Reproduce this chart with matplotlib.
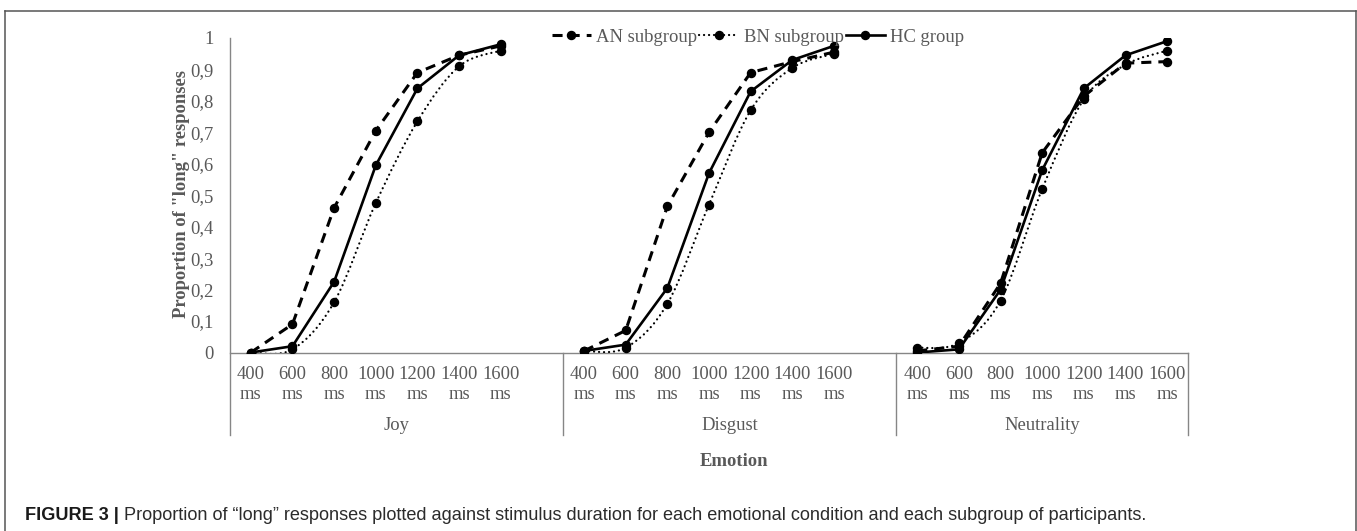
import numpy as np
import matplotlib
matplotlib.use("Agg")
import matplotlib.pyplot as plt
from matplotlib.path import Path
from matplotlib.patches import PathPatch
from matplotlib.lines import Line2D
import matplotlib.transforms as mtrans

# ---------------- data ----------------
durations = ["400\nms", "600\nms", "800\nms", "1000\nms", "1200\nms", "1400\nms", "1600\nms"]
emotions = ["Joy", "Disgust", "Neutrality"]
series_names = ["AN subgroup", "BN subgroup", "HC group"]

an_joy = [0.0, 0.09, 0.46, 0.705, 0.89, 0.945, 0.975]
bn_joy = [0.0, 0.01, 0.16, 0.475, 0.735, 0.91, 0.96]
hc_joy = [0.0, 0.02, 0.225, 0.595, 0.84, 0.945, 0.98]

an_dis = [0.005, 0.07, 0.465, 0.70, 0.89, 0.925, 0.955]
bn_dis = [0.005, 0.015, 0.155, 0.47, 0.77, 0.905, 0.95]
hc_dis = [0.005, 0.025, 0.205, 0.57, 0.83, 0.93, 0.975]

an_neu = [0.005, 0.02, 0.22, 0.635, 0.815, 0.92, 0.925]
bn_neu = [0.015, 0.03, 0.165, 0.52, 0.805, 0.915, 0.96]
hc_neu = [0.0, 0.01, 0.2, 0.58, 0.84, 0.945, 0.99]

yticks = [0, 0.1, 0.2, 0.3, 0.4, 0.5, 0.6, 0.7, 0.8, 0.9, 1]
ytick_labels = ["0", "0,1", "0,2", "0,3", "0,4", "0,5", "0,6", "0,7", "0,8", "0,9", "1"]

caption_bold = "FIGURE 3 |"
caption_rest = ("Proportion of \u201clong\u201d responses plotted against stimulus duration "
                "for each emotional condition and each subgroup of participants.")

# ---------------- style ----------------
W, H, DPI = 1357, 531, 100
SERIF = ["Liberation Serif", "DejaVu Serif"]
SANS = ["Liberation Sans", "DejaVu Sans"]
TXT = "#595959"
AXC = "#868686"
FS = 13.4

fig = plt.figure(figsize=(W / DPI, H / DPI), dpi=DPI)

def px_x(x):
    return x / W

def px_y(y):
    return 1 - y / H

ax_l, ax_r, ax_t, ax_b = 230, 1188, 38, 352.5
ax = fig.add_axes([px_x(ax_l), px_y(ax_b), (ax_r - ax_l) / W, (ax_b - ax_t) / H])
ax.set_xlim(-0.5, 22.5)
ax.set_ylim(0, 1)
ax.set_facecolor("none")
for s in ax.spines.values():
    s.set_visible(False)

# category positions: 7 per group, one empty slot between groups
n_cat = len(durations)
group_offsets = [0, n_cat + 1, 2 * (n_cat + 1)]
groups = [
    (an_joy, bn_joy, hc_joy),
    (an_dis, bn_dis, hc_dis),
    (an_neu, bn_neu, hc_neu),
]

styles = [
    dict(ls=(0, (3.3, 2.3)), lw=2.2, cap="butt", smooth=False),
    dict(ls=(0, (0.05, 2.2)), lw=1.6, cap="round", smooth=True),
    dict(ls="solid", lw=1.9, cap="butt", smooth=False),
]

def smooth_path(xs, ys):
    pts = np.column_stack([xs, ys]).astype(float)
    n = len(pts)
    verts = [pts[0]]
    codes = [Path.MOVETO]
    for i in range(n - 1):
        p0 = pts[max(i - 1, 0)]
        p1 = pts[i]
        p2 = pts[i + 1]
        p3 = pts[min(i + 2, n - 1)]
        c1 = p1 + (p2 - p0) / 6.0
        c2 = p2 - (p3 - p1) / 6.0
        verts += [c1, c2, p2]
        codes += [Path.CURVE4] * 3
    return Path(verts, codes)

for gi, (off, gdata) in enumerate(zip(group_offsets, groups)):
    xs = np.arange(n_cat) + off
    for si, vals in enumerate(gdata):
        st = styles[si]
        if st["smooth"]:
            patch = PathPatch(smooth_path(xs, vals), fill=False, edgecolor="black",
                              linewidth=st["lw"], linestyle=st["ls"], zorder=3)
            patch.set_capstyle(st["cap"])
            ax.add_patch(patch)
        else:
            ax.plot(xs, vals, color="black", lw=st["lw"], linestyle=st["ls"],
                    dash_capstyle=st["cap"], solid_joinstyle="round", zorder=3)
        ax.plot(xs, vals, linestyle="none", marker="o", ms=5.8, color="black",
                zorder=4)

# y ticks
ax.set_yticks(yticks)
ax.set_yticklabels(ytick_labels, fontsize=FS, family=SERIF, color=TXT)
ax.tick_params(axis="y", length=0, pad=12)

# x ticks
all_x = []
all_lbl = []
for off in group_offsets:
    all_x += list(np.arange(n_cat) + off)
    all_lbl += durations
ax.set_xticks(all_x)
ax.set_xticklabels(all_lbl, fontsize=FS, family=SERIF, color=TXT, linespacing=1.2)
ax.tick_params(axis="x", length=0, pad=10)

# axis lines (multi-level category axis look)
bot_ax = (ax_b - 435) / (ax_b - ax_t)
trans = mtrans.blended_transform_factory(ax.transData, ax.transAxes)
line_kw = dict(color=AXC, lw=1.0, transform=trans, clip_on=False, zorder=2)
ax.plot([-0.5, 22.5], [0, 0], **line_kw)
ax.plot([-0.5, -0.5], [bot_ax, 1], **line_kw)
sep_positions = [group_offsets[1] - 0.5, group_offsets[2] - 0.5, 22.5]
for xsep in sep_positions:
    ax.plot([xsep, xsep], [bot_ax, 0], **line_kw)

# group labels
grp_y = (ax_b - 425) / (ax_b - ax_t)
grp_bounds = [(-0.5, sep_positions[0]), (sep_positions[0], sep_positions[1]),
              (sep_positions[1], sep_positions[2])]
for (a, b), name in zip(grp_bounds, emotions):
    ax.text((a + b) / 2, grp_y, name, transform=trans, ha="center", va="center",
            fontsize=FS, family=SERIF, color=TXT)

# axis titles
fig.text(px_x(734), px_y(461), "Emotion", ha="center", va="center",
         fontsize=FS, family=SERIF, weight="bold", color=TXT)
fig.text(px_x(181), px_y(194), "Proportion of \"long\" responses", ha="center",
         va="center", rotation=90, fontsize=FS, family=SERIF, weight="bold", color=TXT)

# legend
handles = [Line2D([], [], color="black", linestyle=st["ls"], linewidth=st["lw"],
                  marker="o", ms=5.8, dash_capstyle=st["cap"]) for st in styles]
leg = fig.legend(handles, series_names, loc="center", bbox_to_anchor=(px_x(758), px_y(37)),
                 ncol=3, frameon=False, handlelength=2.1, handletextpad=0.3,
                 columnspacing=0.1, borderpad=0, borderaxespad=0,
                 prop=dict(family=SERIF, size=FS))
for t in leg.get_texts():
    t.set_color(TXT)

# outer frame
frame_kw = dict(color="#555555", lw=1.1, transform=fig.transFigure, clip_on=False)
fig.add_artist(Line2D([px_x(5), px_x(1355.5)], [px_y(11), px_y(11)], **frame_kw))
fig.add_artist(Line2D([px_x(5), px_x(5)], [px_y(11), 0], **frame_kw))
fig.add_artist(Line2D([px_x(1355.5), px_x(1355.5)], [px_y(11), 0], **frame_kw))

# caption, fitted to the reference width
renderer = fig.canvas.get_renderer()
cap_x0, cap_x1, cap_y = 25, 1150, 515
fs0 = 12.0
tb = fig.text(px_x(cap_x0), px_y(cap_y), caption_bold, ha="left", va="center",
              fontsize=fs0, family=SANS, weight="bold", color="#1a1a1a")
tr = fig.text(0, px_y(cap_y), " " + caption_rest, ha="left", va="center",
              fontsize=fs0, family=SANS, color="#2b2b2b")
wb = tb.get_window_extent(renderer).width
wr = tr.get_window_extent(renderer).width
scale = (cap_x1 - cap_x0) / (wb + wr)
fs1 = fs0 * scale
tb.set_fontsize(fs1)
tr.set_fontsize(fs1)
wb = tb.get_window_extent(renderer).width
tr.set_x(px_x(cap_x0 + wb))

fig.savefig("out.png", dpi=DPI)
